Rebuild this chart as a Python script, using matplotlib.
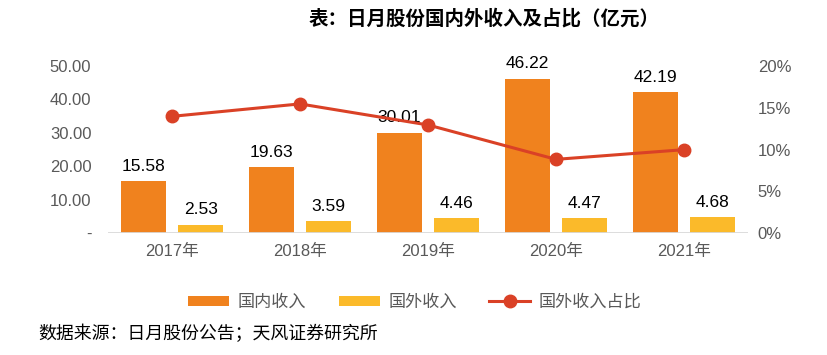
import matplotlib
matplotlib.use("Agg")
import matplotlib.pyplot as plt
import numpy as np

plt.rcParams['font.family'] = ['Liberation Sans', 'Noto Sans CJK SC', 'DejaVu Sans']

# data
years = ["2017年", "2018年", "2019年", "2020年", "2021年"]
domestic = [15.58, 19.63, 30.01, 46.22, 42.19]
overseas = [2.53, 3.59, 4.46, 4.47, 4.68]
overseas_share = [13.97, 15.46, 12.94, 8.82, 9.98]  # %

c_dom = "#F0821E"
c_ovs = "#FBBA2A"
c_line = "#DA4126"
c_tick = "#595959"

fig = plt.figure(figsize=(8.28, 3.55), dpi=100)
ax = fig.add_axes([108 / 828, 1 - 233 / 355, 640 / 828, 167 / 355])
ax2 = ax.twinx()

x = np.arange(len(years))
w = 0.35
off = 0.225
b1 = ax.bar(x - off, domestic, w, color=c_dom, label="国内收入", zorder=2)
b2 = ax.bar(x + off, overseas, w, color=c_ovs, label="国外收入", zorder=2)

for rect, v in zip(list(b1) + list(b2), domestic + overseas):
    ax.text(rect.get_x() + rect.get_width() / 2, v + 2.2, f"{v:.2f}",
            ha="center", va="bottom", fontsize=12.5, color="black", zorder=5)

ax2.plot(x, overseas_share, color=c_line, lw=2.2, marker="o", ms=9,
         label="国外收入占比", zorder=4)

ax.set_xlim(-0.5, len(years) - 0.5)
ax.set_ylim(0, 50)
ax.set_yticks([0, 10, 20, 30, 40, 50])
ax.set_yticklabels(["-", "10.00", "20.00", "30.00", "40.00", "50.00"])
ax2.set_ylim(0, 20)
ax2.set_yticks([0, 5, 10, 15, 20])
ax2.set_yticklabels([f"{t}%" for t in [0, 5, 10, 15, 20]])

ax.set_xticks(x)
ax.set_xticklabels(years)

for a in (ax, ax2):
    for s in ["top", "left", "right", "bottom"]:
        a.spines[s].set_visible(False)
    a.tick_params(length=0, colors=c_tick, labelsize=12)
ax.axhline(0, color="#D9D9D9", lw=2, zorder=3)
ax.tick_params(axis="x", pad=8)
ax.tick_params(axis="y", pad=12)
ax2.tick_params(axis="y", pad=7)

# line above the bars
ax.set_zorder(1)
ax2.set_zorder(2)
ax2.patch.set_visible(False)

h1, l1 = ax.get_legend_handles_labels()
h2, l2 = ax2.get_legend_handles_labels()
fig.legend(h1 + h2, l1 + l2, loc="center", bbox_to_anchor=(415 / 828, 1 - 302 / 355),
           ncol=3, frameon=False, handlelength=2.4, handleheight=0.6,
           handletextpad=0.5, columnspacing=1.9, labelcolor=c_tick,
           prop={"family": ["Noto Sans CJK SC"], "size": 12.3})

fig.text(484 / 828, 1 - 19 / 355, "表：日月股份国内外收入及占比（亿元）", ha="center", va="center",
         fontsize=14, fontweight="bold", family=["Noto Sans CJK SC"])
fig.text(38 / 828, 1 - 334 / 355, "数据来源：日月股份公告；天风证券研究所", ha="left", va="center",
         fontsize=12.9, family=["Noto Sans CJK SC"])

fig.savefig("out.png", dpi=100)
